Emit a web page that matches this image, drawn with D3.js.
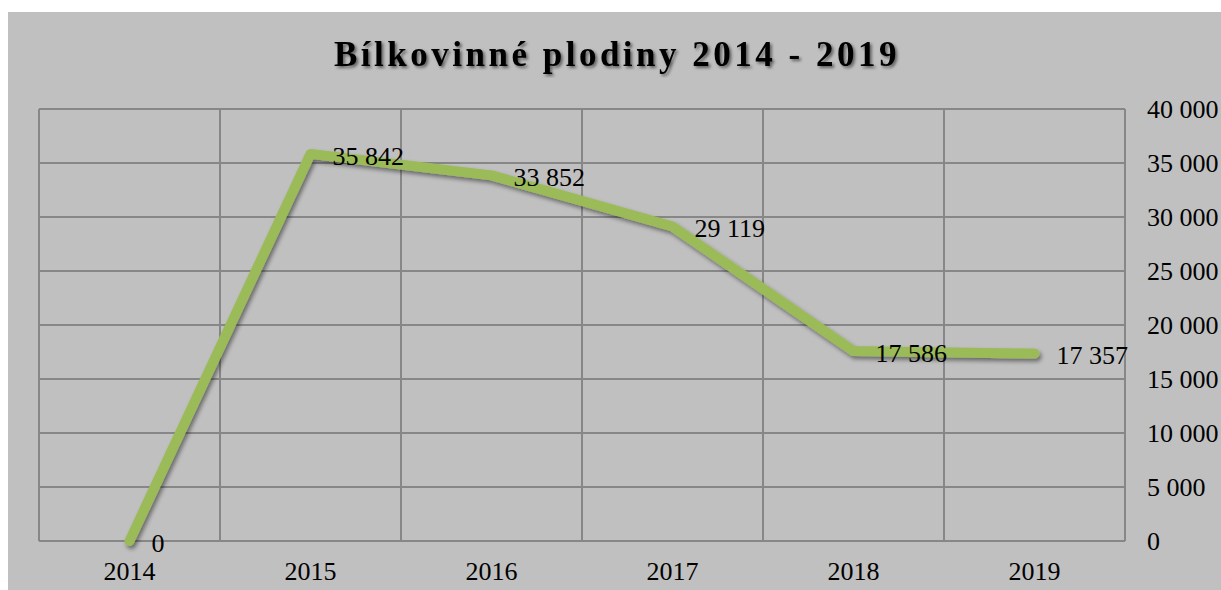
<!DOCTYPE html>
<html><head><meta charset="utf-8">
<script src="https://cdn.jsdelivr.net/npm/d3@7"></script>
<style>
html,body{margin:0;padding:0;background:#fff;}
svg{display:block;}
text{font-family:"Liberation Serif","Times New Roman",serif;}
</style></head>
<body>
<svg id="c" width="1221" height="590"></svg>
<script>
const years = ["2014","2015","2016","2017","2018","2019"];
const values = [0, 35842, 33852, 29119, 17586, 17357];
const yTicks = [0,5000,10000,15000,20000,25000,30000,35000,40000];
const title = "Bílkovinné plodiny 2014 - 2019";

const svg = d3.select("#c");
const defs = svg.append("defs");
const f = defs.append("filter").attr("id","sh").attr("x","-10%").attr("y","-10%").attr("width","120%").attr("height","130%");
f.append("feDropShadow").attr("dx",2).attr("dy",3).attr("stdDeviation",2).attr("flood-color","#000").attr("flood-opacity",0.45);
const f2 = defs.append("filter").attr("id","tsh");
f2.append("feDropShadow").attr("dx",2).attr("dy",2).attr("stdDeviation",1.5).attr("flood-color","#000").attr("flood-opacity",0.5);

svg.append("rect").attr("x",8).attr("y",12).attr("width",1213).attr("height",578).attr("fill","#c0c0c0");

const L=39,R=1125,T=109,B=541;
const x = d3.scaleBand().domain(years).range([L,R]);
const y = d3.scaleLinear().domain([0,40000]).range([B,T]);
const fmt = v => d3.format(",")(v).replace(/,/g," ");

const g = svg.append("g");
g.selectAll("line.h").data(yTicks).join("line")
  .attr("x1",L).attr("x2",R).attr("y1",d=>y(d)).attr("y2",d=>y(d))
  .attr("stroke","#878787").attr("stroke-width",2);
const vx = years.map(d=>x(d)).concat([R]);
g.selectAll("line.v").data(vx).join("line")
  .attr("x1",d=>d).attr("x2",d=>d).attr("y1",T).attr("y2",B)
  .attr("stroke","#878787").attr("stroke-width",2);

const yAxis = d3.axisRight(y).tickValues(yTicks).tickFormat(fmt).tickSize(0).tickPadding(0);
const ya = svg.append("g").attr("transform",`translate(1147,0)`).call(yAxis);
ya.select(".domain").remove();
ya.attr("font-size",null).attr("font-family",null);
ya.selectAll("text").style("font-family","'Liberation Serif', serif").style("font-size","26px").attr("fill","#000").attr("text-anchor","start").attr("dy","0.34em");

const xAxis = d3.axisBottom(x).tickSize(0).tickPadding(0);
const xa = svg.append("g").attr("transform",`translate(0,580)`).call(xAxis);
xa.select(".domain").remove();
xa.attr("font-size",null).attr("font-family",null);
xa.selectAll("text").style("font-family","'Liberation Serif', serif").style("font-size","26px").attr("fill","#000").attr("dy",0).attr("y",0);

const cx = d => x(d)+x.bandwidth()/2;
const line = d3.line().x((d,i)=>cx(years[i])).y(d=>y(d));
svg.append("path").datum(values).attr("d",line)
  .attr("fill","none").attr("stroke","#9bbb59").attr("stroke-width",10)
  .attr("stroke-linejoin","round").attr("stroke-linecap","round")
  .attr("filter","url(#sh)");

svg.selectAll("text.dl").data(values).join("text")
  .attr("x",(d,i)=>cx(years[i])+22).attr("y",(d,i)=>y(d)+2)
  .attr("dy","0.34em").style("font-size","26px").attr("fill","#000")
  .text(d=>fmt(d));

svg.append("text").attr("x",617).attr("y",66).attr("text-anchor","middle")
  .style("font-size","35px").attr("font-weight","bold").attr("letter-spacing",3.5)
  .attr("filter","url(#tsh)").text(title);
</script>
</body></html>
